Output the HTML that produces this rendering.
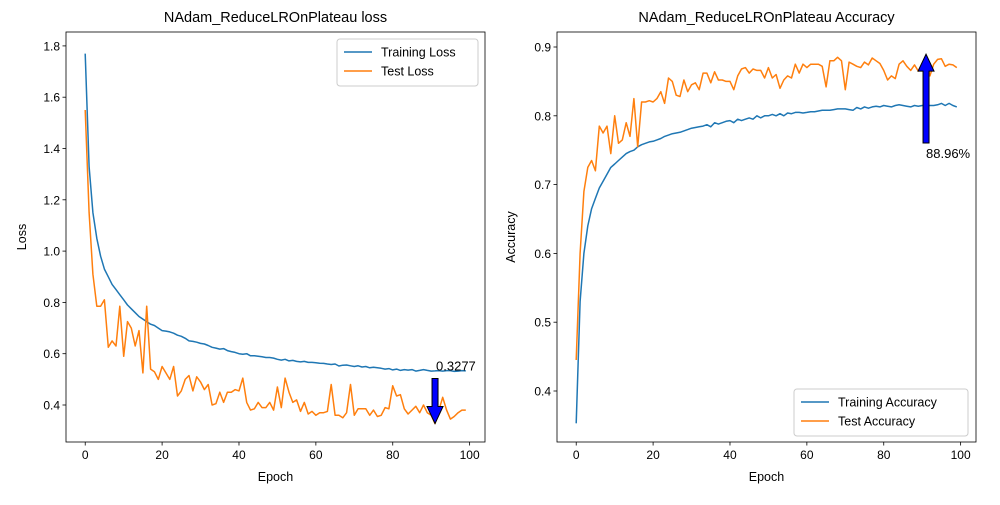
<!DOCTYPE html>
<html><head><meta charset="utf-8"><style>body{margin:0;background:#fff}svg{font-family:"Liberation Sans","DejaVu Sans",sans-serif}</style></head>
<body>
<svg id="c" width="1000" height="500" viewBox="0 0 1000 500" xmlns="http://www.w3.org/2000/svg"></svg>
<script>
const epochs = Array.from({length:100},(_,i)=>i);
const trainLoss=[1.77,1.33,1.15,1.05,0.98,0.93,0.9,0.87,0.85,0.83,0.81,0.79,0.775,0.76,0.745,0.735,0.725,0.715,0.71,0.70,0.69,0.688,0.685,0.68,0.672,0.668,0.66,0.65,0.648,0.645,0.64,0.638,0.632,0.625,0.622,0.618,0.62,0.612,0.608,0.605,0.60,0.598,0.6,0.592,0.592,0.59,0.588,0.585,0.585,0.583,0.578,0.575,0.578,0.572,0.574,0.57,0.568,0.57,0.566,0.566,0.565,0.563,0.562,0.56,0.558,0.56,0.552,0.555,0.556,0.553,0.55,0.553,0.548,0.55,0.545,0.547,0.545,0.543,0.54,0.542,0.537,0.54,0.535,0.538,0.536,0.538,0.532,0.535,0.538,0.535,0.532,0.533,0.534,0.532,0.534,0.534,0.531,0.532,0.534,0.533];
const testLoss=[1.55,1.15,0.91,0.785,0.785,0.81,0.625,0.65,0.63,0.785,0.59,0.725,0.7,0.63,0.69,0.525,0.785,0.54,0.53,0.5,0.55,0.525,0.5,0.55,0.435,0.455,0.5,0.515,0.455,0.51,0.49,0.46,0.48,0.4,0.405,0.45,0.41,0.45,0.45,0.46,0.455,0.505,0.41,0.38,0.385,0.41,0.39,0.39,0.41,0.38,0.47,0.39,0.505,0.45,0.41,0.42,0.375,0.41,0.365,0.375,0.36,0.37,0.37,0.375,0.48,0.36,0.36,0.35,0.37,0.48,0.36,0.385,0.385,0.385,0.36,0.38,0.355,0.36,0.39,0.385,0.475,0.435,0.44,0.385,0.365,0.38,0.395,0.37,0.4,0.37,0.36,0.3277,0.38,0.43,0.38,0.345,0.355,0.37,0.38,0.38];
const trainAcc=[0.353,0.53,0.6,0.64,0.665,0.68,0.695,0.705,0.715,0.725,0.73,0.735,0.74,0.745,0.748,0.75,0.755,0.758,0.76,0.762,0.763,0.765,0.767,0.77,0.772,0.774,0.775,0.776,0.778,0.78,0.782,0.783,0.784,0.785,0.787,0.784,0.79,0.788,0.79,0.792,0.793,0.79,0.795,0.793,0.795,0.797,0.795,0.8,0.797,0.8,0.8,0.802,0.8,0.803,0.8,0.804,0.803,0.805,0.805,0.804,0.805,0.806,0.806,0.807,0.808,0.808,0.808,0.809,0.81,0.81,0.81,0.809,0.808,0.812,0.81,0.813,0.811,0.813,0.814,0.813,0.815,0.814,0.813,0.815,0.816,0.815,0.814,0.813,0.815,0.814,0.815,0.815,0.815,0.815,0.816,0.818,0.815,0.818,0.815,0.813];
const testAcc=[0.445,0.6,0.69,0.725,0.735,0.72,0.785,0.775,0.785,0.745,0.8,0.76,0.765,0.79,0.77,0.825,0.755,0.82,0.82,0.822,0.82,0.825,0.835,0.818,0.855,0.85,0.83,0.828,0.852,0.835,0.845,0.848,0.838,0.862,0.862,0.848,0.864,0.852,0.852,0.85,0.85,0.838,0.858,0.868,0.87,0.862,0.868,0.866,0.866,0.855,0.87,0.855,0.86,0.84,0.852,0.858,0.855,0.875,0.862,0.875,0.87,0.875,0.875,0.875,0.872,0.842,0.88,0.88,0.885,0.88,0.838,0.878,0.875,0.872,0.87,0.878,0.874,0.884,0.88,0.876,0.866,0.852,0.858,0.854,0.875,0.88,0.872,0.866,0.874,0.865,0.87,0.885,0.858,0.875,0.882,0.883,0.872,0.875,0.874,0.87];
const xTicks=[0,20,40,60,80,100];
const lossTicks=[0.4,0.6,0.8,1.0,1.2,1.4,1.6,1.8];
const accTicks=[0.4,0.5,0.6,0.7,0.8,0.9];
const minLossEpoch=91, minLossVal=0.3277, maxAccEpoch=91, maxAccVal=0.8896;

const svg=document.getElementById('c');
const NS='http://www.w3.org/2000/svg';
function mk(tag,attrs,parent,text){const e=document.createElementNS(NS,tag);for(const k in attrs)e.setAttribute(k,attrs[k]);if(text!==undefined)e.textContent=text;(parent||svg).appendChild(e);return e;}

function panel(o){
  const g=mk('g',{});
  
  
  const X=v=>o.x0+(v-o.xmin)/(o.xmax-o.xmin)*(o.x1-o.x0);
  const Y=v=>o.y1-(v-o.ymin)/(o.ymax-o.ymin)*(o.y1-o.y0);
  o.series.forEach(s=>{
    const p=mk('polyline',{points:s.data.map((v,i)=>X(epochs[i]).toFixed(1)+','+Y(v).toFixed(1)).join(' '),fill:'none',stroke:s.color,'stroke-width':1.5,'stroke-linejoin':'round'},g);
    
    
  });
  const fr=mk('rect',{x:o.x0,y:o.y0,width:o.x1-o.x0,height:o.y1-o.y0,fill:'none',stroke:'#000','stroke-width':0.8},g);
  
  
  xTicks.forEach(t=>{const x=X(t);mk('line',{x1:x,x2:x,y1:o.y1,y2:o.y1+3.5,stroke:'#000','stroke-width':0.8},g);
    const tx=mk('text',{x:x,y:o.y1+17,'font-size':12,'text-anchor':'middle'},g,String(t));
    
    });
  o.yticks.forEach(t=>{const y=Y(t);mk('line',{x1:o.x0-3.5,x2:o.x0,y1:y,y2:y,stroke:'#000','stroke-width':0.8},g);
    const tx=mk('text',{x:o.x0-6,y:y+4.5,'font-size':12,'text-anchor':'end'},g,t.toFixed(1));
    
    });
  const ti=mk('text',{x:(o.x0+o.x1)/2,y:o.y0-10,'font-size':14.5,'text-anchor':'middle'},g,o.title);
  
  
  const xl=mk('text',{x:(o.x0+o.x1)/2,y:o.y1+39,'font-size':12.5,'text-anchor':'middle'},g,'Epoch');
  
  
  const yl=mk('text',{x:0,y:0,'font-size':12.5,'text-anchor':'middle',transform:`translate(${o.ylx},${(o.y0+o.y1)/2}) rotate(-90)`},g,o.ylabel);
  
  
  // legend
  const lg=mk('g',{},g);
  
  
  mk('rect',{x:o.lx,y:o.ly,width:o.lw,height:47,rx:3,fill:'#fff',stroke:'#ccc','stroke-width':1},lg);
  o.series.forEach((s,i)=>{const yy=o.ly+13+i*19;
    mk('line',{x1:o.lx+7,x2:o.lx+35,y1:yy,y2:yy,stroke:s.color,'stroke-width':1.5},lg);
    const t=mk('text',{x:o.lx+44,y:yy+4.5,'font-size':12.5},lg,s.label);
    
    });
  return {X,Y,g};
}
const L=panel({name:'loss-panel',x0:66,x1:485,y0:32,y1:442,xmin:-5,xmax:104,ymin:0.4-(442-405)/256.5,ymax:0.4+(405-32)/256.5,
  yticks:lossTicks,title:'NAdam_ReduceLROnPlateau loss',ylabel:'Loss',ylx:26,lx:337,ly:39,lw:141,
  series:[{id:'training-loss-line',data:trainLoss,color:'#1f77b4',label:'Training Loss'},{id:'test-loss-line',data:testLoss,color:'#ff7f0e',label:'Test Loss'}]});
const R=panel({name:'accuracy-panel',x0:557,x1:976,y0:32,y1:442,xmin:-5,xmax:104,ymin:0.4-(442-391)/688,ymax:0.4+(391-32)/688,
  yticks:accTicks,title:'NAdam_ReduceLROnPlateau Accuracy',ylabel:'Accuracy',ylx:515,lx:794,ly:389,lw:174,
  series:[{id:'training-accuracy-line',data:trainAcc,color:'#1f77b4',label:'Training Accuracy'},{id:'test-accuracy-line',data:testAcc,color:'#ff7f0e',label:'Test Accuracy'}]});
// annotations
(function(){
  const x=L.X(minLossEpoch), yt=L.Y(minLossVal), yb=yt-45;
  const a=mk('path',{d:`M${x-3},${yb} L${x+3},${yb} L${x+3},${yt-17} L${x+8},${yt-17} L${x},${yt} L${x-8},${yt-17} L${x-3},${yt-17} Z`,fill:'#0000ff',stroke:'#000','stroke-width':1});
  
  
  const t=mk('text',{x:x+1,y:yb-8,'font-size':13},null,minLossVal.toFixed(4));
  
  
  const x2=R.X(maxAccEpoch), yt2=R.Y(maxAccVal), yb2=143;
  const b=mk('path',{d:`M${x2-3},${yb2} L${x2+3},${yb2} L${x2+3},${yt2+17} L${x2+8},${yt2+17} L${x2},${yt2} L${x2-8},${yt2+17} L${x2-3},${yt2+17} Z`,fill:'#0000ff',stroke:'#000','stroke-width':1});
  
  
  const t2=mk('text',{x:x2,y:yb2+15,'font-size':13},null,(maxAccVal*100).toFixed(2)+'%');
  
  
})();
</script>
</body></html>
